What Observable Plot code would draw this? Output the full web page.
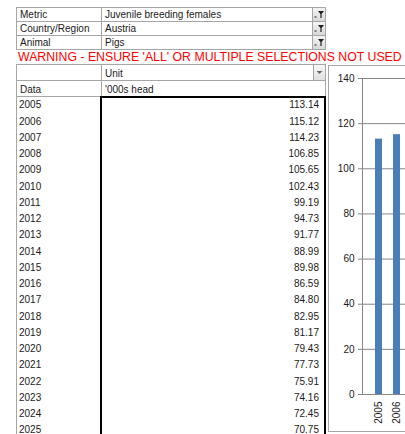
<!DOCTYPE html>
<html><head><meta charset="utf-8">
<script src="https://cdn.jsdelivr.net/npm/d3@7"></script>
<script src="https://cdn.jsdelivr.net/npm/@observablehq/plot@0.6"></script>
<style>
body{margin:0;width:405px;height:434px;overflow:hidden;position:relative;background:#fff;font-family:"Liberation Sans",Arial,sans-serif;font-size:10px;color:#1a1a1a}
.c{position:absolute;box-sizing:border-box;white-space:nowrap;overflow:hidden}
</style></head><body>
<script>
// ---- data ----
const metaLabels = ["Metric", "Country/Region", "Animal"];
const metaValues = ["Juvenile breeding females", "Austria", "Pigs"];
const warningText = "WARNING - ENSURE 'ALL' OR MULTIPLE SELECTIONS NOT USED";
const headerLabels = ["", "Data"];
const headerValues = ["Unit", "'000s head"];
const years = ["2005","2006","2007","2008","2009","2010","2011","2012","2013","2014","2015","2016","2017","2018","2019","2020","2021","2022","2023","2024","2025"];
const values = [113.14,115.12,114.23,106.85,105.65,102.43,99.19,94.73,91.77,88.99,89.98,86.59,84.80,82.95,81.17,79.43,77.73,75.91,74.16,72.45,70.75];
const yTicks = [0,20,40,60,80,100,120,140];

const GRAY = "#a6a6a6";
const body = document.body;
function box(x, y, w, h, css, text) {
  const d = document.createElement("div");
  d.className = "c";
  d.style.cssText = `left:${x}px;top:${y}px;width:${w}px;height:${h}px;` + (css || "");
  if (text != null) d.textContent = text;
  body.appendChild(d);
  return d;
}
const funnel = '<svg width="12" height="12" viewBox="0 0 12 12" style="position:absolute;left:0;top:0"><path d="M5 3h6L8.6 6v4H7.4V6z" fill="#222"/><rect x="1.5" y="8.5" width="2" height="1" fill="#222"/></svg>';

// top filter table
metaLabels.forEach((lab, i) => {
  const y = 7 + i * 14;
  box(16, y, 86, 15, `border:1px solid ${GRAY};padding-left:3px;line-height:13px;`, lab);
  box(101, y, 212, 15, `border:1px solid ${GRAY};padding-left:3px;line-height:13px;`, metaValues[i]);
  const b = box(312, y, 14, 15, `border:1px solid ${GRAY};background:linear-gradient(#f4f4f4,#d8d8d8);`);
  b.innerHTML = funnel;
});

// warning
box(18, 51, 390, 14, "color:#ff0000;font-size:12.3px;line-height:12px;overflow:visible;", warningText);

// header of the data table
headerLabels.forEach((lab, i) => {
  const y = 64 + i * 16;
  box(16, y, 86, 17, `border:1px solid ${GRAY};padding-left:3px;line-height:16px;padding-top:1px;`, lab);
  box(101, y, 225, 17, `border:1px solid ${GRAY};padding-left:3px;line-height:16px;padding-top:1px;`, headerValues[i]);
});
const dd = box(313, 64, 13, 17, `border:1px solid ${GRAY};background:linear-gradient(#f7f7f7,#e0e0e0);`);
dd.innerHTML = '<svg width="11" height="15" style="position:absolute;left:0;top:0"><path d="M2.5 6h6l-3 3z" fill="#666"/></svg>';

// data rows
box(16, 96, 1, 340, `background:${GRAY};`);
const rowH = 16.25;
years.forEach((yr, i) => {
  const top = 96 + i * rowH + 1.4;
  box(19, top, 80, rowH, `line-height:${rowH}px;`, yr);
  box(103, top, 216, rowH, `line-height:${rowH}px;text-align:right;`, values[i].toFixed(2));
});
box(100, 96, 226, 400, "border:2px solid #000;border-bottom:none;");

// chart
box(328, 65, 200, 367, `border:1px solid ${GRAY};background:#fff;`);
const data = years.map((y, i) => ({year: y, value: values[i]}));
const chart = Plot.plot({
  width: 427, height: 366,
  marginLeft: 34, marginRight: 0, marginTop: 13, marginBottom: 37,
  style: {background: "transparent", maxWidth: "none", fontFamily: "Liberation Sans, Arial, sans-serif", fontSize: "10px", color: "#1a1a1a", overflow: "visible"},
  x: {domain: years, paddingInner: 0.6, paddingOuter: 0.3},
  y: {domain: [0, 140]},
  marks: [
    Plot.gridY(yTicks, {stroke: "#868686", strokeOpacity: 1}),
    Plot.barY(data, {x: "year", y: "value", fill: "#4a7ebb"}),
    Plot.ruleY([0], {stroke: "#868686"}),
    Plot.axisY(yTicks, {tickSize: 4, tickPadding: 4, stroke: "#868686", fill: "#1a1a1a", fontSize: 10, label: null}),
    Plot.frame({anchor: "left", stroke: "#868686"}),
    Plot.axisX({tickRotate: -90, tickSize: 0, tickPadding: 7, fill: "#1a1a1a", fontSize: 10, label: null})
  ]
});
const holder = box(328, 65, 427, 366, "overflow:visible;");
holder.appendChild(chart);
</script>
</body></html>
